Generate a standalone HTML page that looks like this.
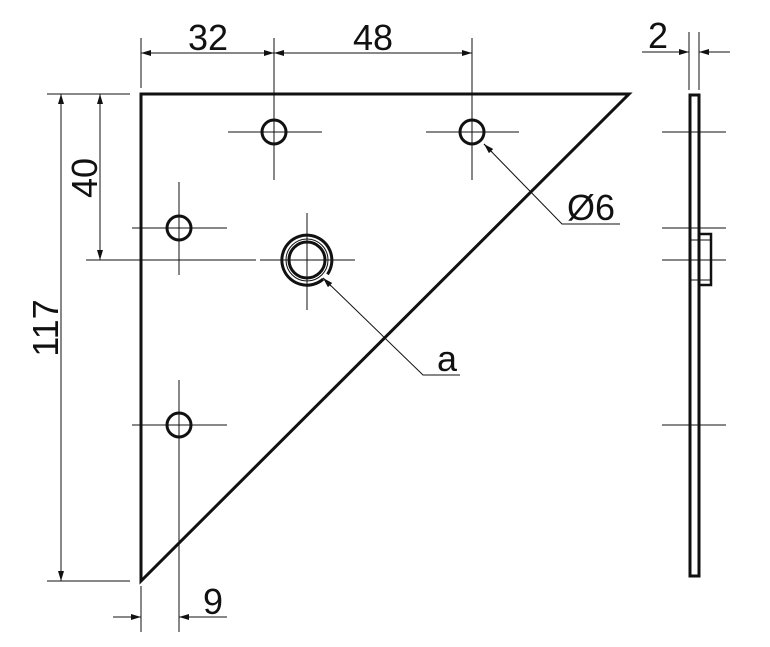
<!DOCTYPE html>
<html><head><meta charset="utf-8"><style>body{margin:0;background:#fff}svg{display:block}text{font-family:"Liberation Sans",sans-serif;fill:#111}</style></head><body>
<svg width="770" height="647" viewBox="0 0 770 647" xmlns="http://www.w3.org/2000/svg">
<defs><marker id="a" viewBox="0 0 10 6" refX="10" refY="3" markerWidth="10" markerHeight="6" orient="auto-start-reverse" markerUnits="userSpaceOnUse"><path d="M0,0L10,3L0,6z" fill="#111"/></marker></defs>
<g stroke="#111" stroke-width="1" fill="none">
<line x1="141" y1="38" x2="141" y2="88"/>
<line x1="274" y1="38" x2="274" y2="180"/>
<line x1="472" y1="38" x2="472" y2="180"/>
<line x1="47" y1="94" x2="130" y2="94"/>
<line x1="86" y1="260" x2="256" y2="260"/>
<line x1="47" y1="581" x2="130" y2="581"/>
<line x1="141" y1="586" x2="141" y2="632"/>
<line x1="179" y1="380" x2="179" y2="632"/>
<line x1="141" y1="53" x2="274" y2="53" marker-start="url(#a)" marker-end="url(#a)"/>
<line x1="274" y1="53" x2="472" y2="53" marker-start="url(#a)" marker-end="url(#a)"/>
<line x1="61" y1="94" x2="61" y2="581" marker-start="url(#a)" marker-end="url(#a)"/>
<line x1="100" y1="94" x2="100" y2="260" marker-start="url(#a)" marker-end="url(#a)"/>
<line x1="113" y1="617" x2="141" y2="617" marker-end="url(#a)"/>
<line x1="227" y1="617" x2="179" y2="617" marker-end="url(#a)"/>
<line x1="228" y1="132" x2="322" y2="132"/>
<line x1="426" y1="132" x2="519" y2="132"/>
<line x1="132" y1="228" x2="227" y2="228"/><line x1="179" y1="182" x2="179" y2="275"/>
<line x1="132" y1="425" x2="227" y2="425"/>
<line x1="260" y1="260" x2="355" y2="260"/><line x1="307" y1="213" x2="307" y2="310"/>
<polyline points="484,144 562,224 620,224"/>
<polyline points="323,278 423,375 460,375"/>
<line x1="484" y1="144" x2="492" y2="152" marker-start="url(#a)"/>
<line x1="323" y1="278" x2="331" y2="286" marker-start="url(#a)"/>
<line x1="689" y1="32" x2="689" y2="90"/><line x1="699" y1="32" x2="699" y2="90"/>
<line x1="642" y1="52" x2="689" y2="52" marker-end="url(#a)"/>
<line x1="730" y1="52" x2="699" y2="52" marker-end="url(#a)"/>
<line x1="662" y1="132" x2="726" y2="132"/><line x1="662" y1="228" x2="726" y2="228"/>
<line x1="662" y1="260" x2="726" y2="260"/><line x1="662" y1="425" x2="726" y2="425"/>
<line x1="691" y1="240" x2="711" y2="240"/><line x1="691" y1="280" x2="711" y2="280"/>
</g>
<g stroke="#111" stroke-width="3" fill="none">
<path d="M141,94 L629,94 L141,581 Z"/>
<circle cx="274" cy="132" r="12"/>
<circle cx="472" cy="132" r="12"/>
<circle cx="179" cy="228" r="12"/>
<circle cx="179" cy="425" r="12"/>
<circle cx="307" cy="260" r="18"/>
<path d="M323.1,279.2 A25,25 0 1 1 327.5,274.3"/>
<rect x="690" y="95" width="9" height="481"/>
<rect x="699" y="234" width="12" height="51" stroke-width="2.5"/>
</g>
<g stroke="#111" stroke-width="1" fill="none">
<circle cx="307" cy="260" r="21"/>
<path d="M271,132h6M274,129v6M469,132h6M472,129v6M176,228h6M179,225v6M176,425h6M179,422v6M304,260h6M307,257v6"/>
</g>
<text x="208" y="50" font-size="36" text-anchor="middle">32</text>
<text x="373" y="50" font-size="36" text-anchor="middle">48</text>
<text x="658" y="48" font-size="36" text-anchor="middle">2</text>
<text x="213" y="614" font-size="36" text-anchor="middle">9</text>
<text x="591" y="220" font-size="36" text-anchor="middle">Ø6</text>
<text x="447" y="371" font-size="36" text-anchor="middle">a</text>
<text transform="translate(58,328) rotate(-90)" font-size="36" text-anchor="middle">117</text>
<text transform="translate(97,178) rotate(-90)" font-size="36" text-anchor="middle">40</text>
</svg>
</body></html>
